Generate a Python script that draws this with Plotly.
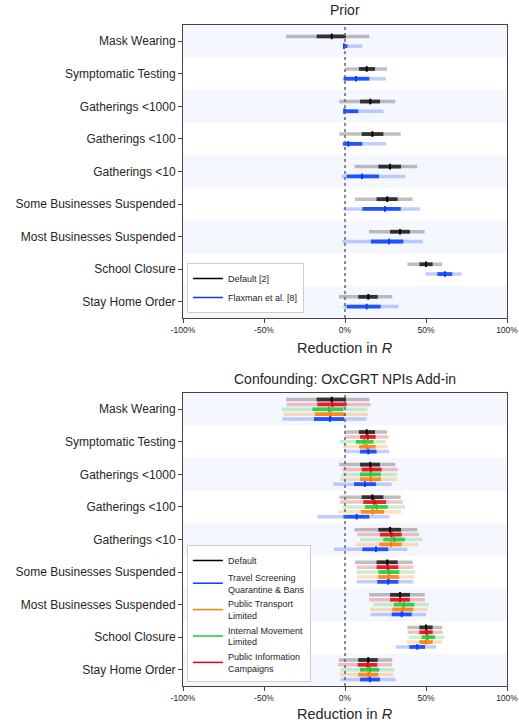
import plotly.graph_objects as go

categories = ["Mask Wearing", "Symptomatic Testing", "Gatherings <1000", "Gatherings <100",
              "Gatherings <10", "Some Businesses Suspended", "Most Businesses Suspended",
              "School Closure", "Stay Home Order"]

# each row: [lo95, lo50, median, hi50, hi95] in percent
default = [[-36.4, -17.5, -8.2, 0.6, 15.0], [0.0, 8.6, 13.4, 18.5, 26.0], [-3.5, 9.3, 15.6, 21.6, 31.0],
           [-3.5, 10.3, 16.9, 23.7, 34.4], [5.8, 20.6, 27.8, 34.6, 44.6], [6.2, 19.5, 26.1, 32.5, 41.8],
           [14.8, 27.8, 34.0, 40.1, 49.2], [38.5, 45.9, 50.0, 54.1, 60.0], [-3.7, 8.2, 14.4, 20.2, 29.2]]
flaxman = [[-1.2, -1.0, -0.6, 1.5, 10.7], [-1.2, -0.8, 6.8, 15.0, 25.3], [-1.2, -0.8, -0.4, 8.2, 23.7],
           [-1.6, -1.2, 2.0, 10.7, 25.3], [-2.0, 1.0, 10.5, 21.0, 37.2], [-1.0, 10.7, 24.7, 34.4, 46.3],
           [-1.6, 16.0, 27.2, 36.0, 48.0], [49.6, 57.0, 61.7, 66.2, 72.0], [-1.0, 1.0, 13.4, 22.0, 32.9]]
public_info = [[-36.0, -17.1, -7.8, 1.0, 15.8], [0.0, 9.3, 14.0, 18.9, 26.7], [-1.6, 10.3, 16.0, 22.6, 32.5],
               [-3.1, 11.3, 18.1, 25.3, 35.6], [7.6, 21.6, 28.8, 35.0, 45.7], [7.2, 19.5, 26.3, 32.9, 42.2],
               [14.8, 27.8, 34.0, 40.1, 49.4], [38.7, 45.9, 50.4, 54.1, 60.3], [-4.1, 7.8, 14.0, 19.9, 28.8]]
internal_move = [[-39.0, -20.1, -9.9, -1.0, 13.8], [-3.1, 6.8, 11.9, 17.5, 25.1], [-2.0, 9.3, 15.8, 22.2, 31.9],
                 [-1.4, 12.3, 19.5, 26.3, 37.0], [9.3, 23.7, 30.5, 37.0, 47.7], [7.2, 20.6, 27.2, 33.5, 43.2],
                 [17.5, 30.2, 36.4, 42.8, 51.9], [39.5, 47.3, 51.0, 55.6, 61.3], [-2.7, 9.3, 15.4, 21.2, 30.5]]
public_transport = [[-37.7, -18.5, -8.8, 0.0, 14.4], [-1.0, 8.8, 13.4, 18.9, 26.3], [-3.1, 9.3, 15.8, 22.2, 32.3],
                    [-4.1, 9.9, 17.1, 24.1, 34.6], [6.8, 21.2, 28.4, 35.0, 45.3], [7.6, 20.6, 27.0, 33.3, 42.8],
                    [15.4, 29.2, 35.6, 42.2, 50.8], [38.1, 45.9, 50.0, 54.1, 60.0], [-3.1, 8.2, 14.4, 20.6, 29.8]]
travel = [[-38.7, -19.1, -9.3, -0.6, 13.4], [-0.6, 9.3, 14.4, 19.5, 27.2], [-7.2, 5.6, 12.3, 19.1, 28.8],
          [-17.1, -1.0, 7.2, 15.0, 27.4], [-6.8, 10.7, 19.1, 26.7, 38.5], [7.2, 19.9, 26.7, 32.9, 42.2],
          [15.8, 28.8, 35.0, 41.2, 50.0], [31.3, 39.7, 44.6, 49.4, 56.2], [-2.7, 9.3, 15.4, 21.6, 31.3]]

x_ticks = [-100, -50, 0, 50, 100]
x_tick_labels = ["-100%", "-50%", "0%", "50%", "100%"]

COL = {"black": (0, 0, 0), "blue": (2, 62, 255), "orange": (255, 124, 0),
       "green": (26, 201, 56), "red": (232, 0, 11)}

def rgba(c, a):
    return "rgba(%d,%d,%d,%.2f)" % (c[0], c[1], c[2], a)

fig = go.Figure()

def add_series(data, offset, color, name, xa, ya, legend, rank):
    c = COL[color]
    xs95, ys95, xs50, ys50, xm, ym = [], [], [], [], [], []
    for i, r in enumerate(data):
        y = i + offset
        xs95 += [r[0], r[4], None]; ys95 += [y, y, None]
        xs50 += [r[1], r[3], None]; ys50 += [y, y, None]
        xm.append(r[2]); ym.append(y)
    fig.add_trace(go.Scatter(x=xs95, y=ys95, mode="lines", xaxis=xa, yaxis=ya,
                             line=dict(color=rgba(c, 0.25), width=3.5), showlegend=False, hoverinfo="skip"))
    dark = rgba((34, 34, 34), 0.9) if color == "black" else rgba(c, 0.85)
    fig.add_trace(go.Scatter(x=xs50, y=ys50, mode="lines", xaxis=xa, yaxis=ya,
                             line=dict(color=dark, width=3.8), showlegend=False, hoverinfo="skip"))
    fig.add_trace(go.Scatter(x=xm, y=ym, mode="markers", xaxis=xa, yaxis=ya,
                             marker=dict(symbol="line-ns", size=4, line=dict(color=rgba(c, 1), width=2)),
                             showlegend=False))
    fig.add_trace(go.Scatter(x=[None], y=[None], mode="lines", xaxis=xa, yaxis=ya, name=name,
                             line=dict(color=rgba(c, 1), width=1.5), legend=legend, legendrank=rank))

# top panel
add_series(default, -0.15, "black", "Default [2]", "x", "y", "legend", 1)
add_series(flaxman, 0.15, "blue", "Flaxman et al. [8]", "x", "y", "legend", 2)
# bottom panel (plot order top to bottom), legend order via legendrank
bottom = [(default, -0.30, "black", "Default", 1),
          (public_info, -0.15, "red", "Public Information<br>Campaigns", 5),
          (internal_move, 0.0, "green", "Internal Movement<br>Limited", 4),
          (public_transport, 0.15, "orange", "Public Transport<br>Limited", 3),
          (travel, 0.30, "blue", "Travel Screening<br>Quarantine & Bans", 2)]
for d, off, col, nm, rank in bottom:
    add_series(d, off, col, nm, "x2", "y2", "legend2", rank)

shapes = []
for ya in ["y", "y2"]:
    xa = "x" if ya == "y" else "x2"
    for i in range(0, len(categories), 2):
        shapes.append(dict(type="rect", xref=xa + " domain", yref=ya,
                           x0=0, x1=1, y0=i - 0.5, y1=i + 0.5, fillcolor="#f5f7fe",
                           line=dict(width=0), layer="below"))
    shapes.append(dict(type="line", xref=xa, yref=ya + " domain",
                       x0=0, x1=0, y0=0, y1=1, line=dict(color="#666666", width=1.5, dash="dot"),
                       layer="above"))

axis_common = dict(showline=True, mirror=True, linecolor="#444444", linewidth=1,
                   ticks="outside", ticklen=4, tickcolor="#444444", showgrid=False, zeroline=False,
                   automargin=False)
top_dom = [(686 - 318) / 661, 1.0]
bot_dom = [0.0, (686 - 393) / 661]

leg_common = dict(x=0.012, xanchor="left", yanchor="bottom", bgcolor="white",
                  bordercolor="#cccccc", borderwidth=1, font=dict(size=9),
                  tracegroupgap=0, itemwidth=30)

fig.update_layout(
    template="none",
    width=519, height=723, margin=dict(l=183, r=12, t=25, b=37, autoexpand=False),
    paper_bgcolor="white", plot_bgcolor="white",
    font=dict(family="Liberation Sans, Arial, sans-serif", color="#262626"),
    shapes=shapes,
    xaxis=dict(domain=[0, 1], range=[-100, 100], tickvals=x_ticks, ticktext=x_tick_labels,
               tickfont=dict(size=8.5), anchor="y", **axis_common),
    xaxis2=dict(domain=[0, 1], range=[-100, 100], tickvals=x_ticks, ticktext=x_tick_labels,
                tickfont=dict(size=8.5), anchor="y2", **axis_common),
    yaxis=dict(domain=top_dom, range=[8.5, -0.5], tickvals=list(range(len(categories))),
               ticktext=categories, tickfont=dict(size=12), anchor="x", **axis_common),
    yaxis2=dict(domain=bot_dom, range=[8.5, -0.5], tickvals=list(range(len(categories))),
                ticktext=categories, tickfont=dict(size=12), anchor="x2", **axis_common),
    legend=dict(y=(686 - 313) / 661, **leg_common),
    legend2=dict(y=(686 - 682) / 661, **leg_common),
    annotations=[
        dict(text="Prior", x=0.5, y=(686 - 10) / 661, xref="paper", yref="paper",
             showarrow=False, font=dict(size=14), xanchor="center", yanchor="middle"),
        dict(text="Confounding: OxCGRT NPIs Add-in", x=0.5, y=(686 - 379) / 661, xref="paper",
             yref="paper", showarrow=False, font=dict(size=14), xanchor="center", yanchor="middle"),
        dict(text="Reduction in <i>R</i>", x=0.5, y=(686 - 348) / 661, xref="paper", yref="paper",
             showarrow=False, font=dict(size=14.5), xanchor="center", yanchor="middle"),
        dict(text="Reduction in <i>R</i>", x=0.5, y=(686 - 714) / 661, xref="paper", yref="paper",
             showarrow=False, font=dict(size=14.5), xanchor="center", yanchor="middle"),
    ],
)

fig.write_html("out.html", config={"displayModeBar": False},
               post_script="document.body.style.margin='0';document.body.style.padding='0';")
